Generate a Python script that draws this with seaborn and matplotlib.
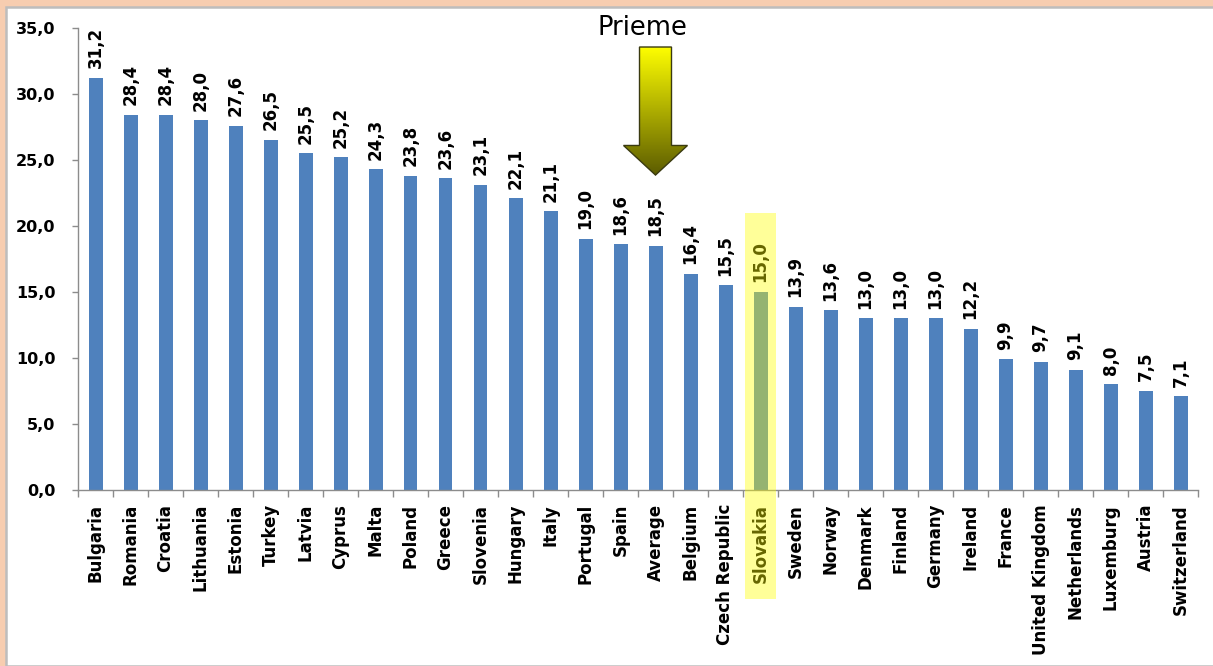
import numpy as np
import matplotlib
matplotlib.use("Agg")
import matplotlib.pyplot as plt
import matplotlib.transforms as mtransforms
from matplotlib.patches import Rectangle, Polygon
import seaborn as sns

countries = ["Bulgaria", "Romania", "Croatia", "Lithuania", "Estonia", "Turkey", "Latvia",
             "Cyprus", "Malta", "Poland", "Greece", "Slovenia", "Hungary", "Italy", "Portugal",
             "Spain", "Average", "Belgium", "Czech Republic", "Slovakia", "Sweden", "Norway",
             "Denmark", "Finland", "Germany", "Ireland", "France", "United Kingdom",
             "Netherlands", "Luxemburg", "Austria", "Switzerland"]
values = [31.2, 28.4, 28.4, 28.0, 27.6, 26.5, 25.5, 25.2, 24.3, 23.8, 23.6, 23.1, 22.1, 21.1,
          19.0, 18.6, 18.5, 16.4, 15.5, 15.0, 13.9, 13.6, 13.0, 13.0, 13.0, 12.2, 9.9, 9.7,
          9.1, 8.0, 7.5, 7.1]
yticks = [0, 5, 10, 15, 20, 25, 30, 35]
highlight = "Slovakia"
arrow_target = "Average"
arrow_text = "Prieme"

W, H = 1213, 666
fig = plt.figure(figsize=(W / 100, H / 100), dpi=100)
fig.patch.set_facecolor("#F7CDB0")
panel = Rectangle((6 / W, 0), 1.0, 1 - 7 / H, transform=fig.transFigure,
                  facecolor="white", edgecolor="#BDBDBD", lw=1.8, zorder=-10)
fig.patches.append(panel)

ax = fig.add_axes([78 / W, 1 - 490 / H, (1198 - 78) / W, 462 / H])
ax.set_zorder(1)
ax.patch.set_alpha(0)

bar_color = "#4F81BD"
sns.barplot(x=countries, y=values, hue=countries, palette=[bar_color] * len(countries),
            legend=False, width=0.4, saturation=1, ax=ax, zorder=2)

bold = dict(fontfamily="DejaVu Sans", fontweight="bold", fontsize=12)

for i, v in enumerate(values):
    ax.annotate(f"{v:.1f}".replace(".", ","), (i, v), xytext=(0, 7),
                textcoords="offset points", rotation=90, ha="center", va="bottom",
                color="black", **bold)

ax.set_xlim(-0.5, len(countries) - 0.5)
ax.set_ylim(0, 35)
ax.set_yticks(yticks)
ax.set_yticklabels([f"{t:.1f}".replace(".", ",") for t in yticks],
                   fontfamily="DejaVu Sans", fontweight="bold", fontsize=11.5)
ax.set_xticks(range(len(countries)))
ax.set_xticklabels(countries, rotation=90, **bold)
ax.set_xticks(np.arange(-0.5, len(countries), 1), minor=True)
ax.tick_params(axis="x", which="major", length=0, pad=10)
ax.tick_params(axis="x", which="minor", length=5, width=1, color="#8C8C8C", direction="out")
ax.tick_params(axis="y", length=4.3, width=1, color="#8C8C8C", pad=12)
ax.set_xlabel("")
ax.set_ylabel("")
for s in ["top", "right"]:
    ax.spines[s].set_visible(False)
for s in ["left", "bottom"]:
    ax.spines[s].set_color("#8C8C8C")
    ax.spines[s].set_linewidth(1)
ax.grid(False)

# highlight box over Slovakia
hi = countries.index(highlight)
trans = mtransforms.blended_transform_factory(ax.transData, ax.transAxes)
ax.add_patch(Rectangle((hi - 0.44, -0.236), 0.88, 0.836, transform=trans,
                       facecolor="#FFFF00", alpha=0.4, edgecolor="none",
                       clip_on=False, zorder=6))

# gradient arrow above Average
ai = countries.index(arrow_target)
top, base, tip = 33.56, 26.1, 23.86
sw, hw = 0.457, 0.914
pts = [(ai - sw, top), (ai + sw, top), (ai + sw, base), (ai + hw, base), (ai, tip),
       (ai - hw, base), (ai - sw, base)]
poly = Polygon(pts, closed=True, facecolor="none", edgecolor="#3A3A10", lw=1, zorder=5)
ax.add_patch(poly)
n = 256
c0 = np.array([1.0, 1.0, 0.0])
c1 = np.array([0.36, 0.36, 0.0])
t = np.linspace(0, 1, n)[:, None]
grad = (c0 * (1 - t) + c1 * t)[:, None, :]
im = ax.imshow(grad, extent=[ai - hw, ai + hw, tip, top], origin="upper",
               aspect="auto", zorder=4, interpolation="bilinear")
clip = Polygon(pts, closed=True, transform=ax.transData, facecolor="none", edgecolor="none")
im.set_clip_path(clip)
ax.set_xlim(-0.5, len(countries) - 0.5)
ax.set_ylim(0, 35)

ax.text(ai - 0.36, 35.0, arrow_text, ha="center", va="center", fontsize=18.5,
        fontfamily="DejaVu Sans", color="black", clip_on=False)

fig.savefig("out.png", dpi=100, facecolor=fig.get_facecolor())
